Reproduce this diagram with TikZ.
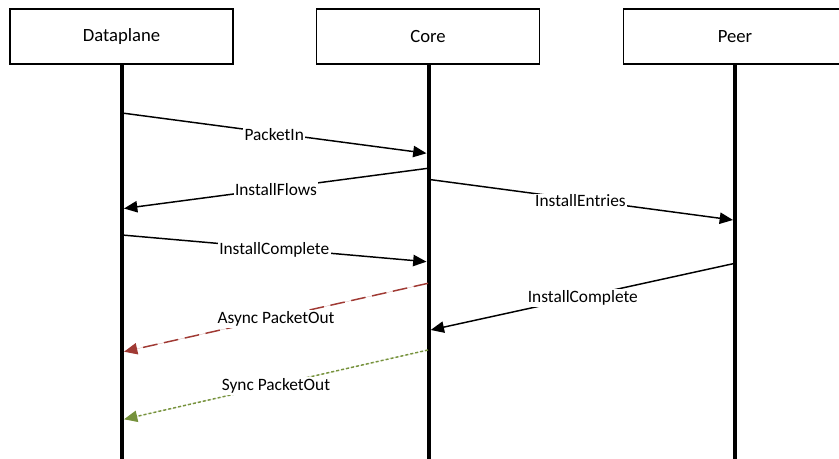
\documentclass[tikz,border=0pt]{standalone}
\usepackage{fontspec}
\setmainfont{Carlito}
\usetikzlibrary{arrows.meta}
\definecolor{asyncred}{RGB}{160,58,52}
\definecolor{syncgreen}{RGB}{118,146,60}
\begin{document}
\begin{tikzpicture}[x=0.75pt,y=-0.75pt,
  actor/.style={draw=black, line width=0.8pt, fill=white,
    minimum width=167.25pt, minimum height=41.25pt, inner sep=0pt,
    font=\fontsize{14}{16}\selectfont},
  lifeline/.style={line width=3pt},
  msg/.style={line width=1.1pt, -{Triangle[length=10pt,width=8.5pt]}},
  lbl/.style={fill=white, inner sep=1pt, yshift=-1pt,
    font=\fontsize{13}{15}\selectfont},
]
\useasboundingbox (0,0) rectangle (839,459);
\clip (0,0) rectangle (839,459);

% lifeline ends at the bottom edge
\coordinate (dpBot) at (122,462);
\coordinate (coreBot) at (428.7,462);
\coordinate (peerBot) at (735,462);
\draw[lifeline] (122,60) -- (dpBot);
\draw[lifeline] (428.7,60) -- (coreBot);
\draw[lifeline] (735,60) -- (peerBot);

% participants
\node[actor] (dp) at (121.5,36.5) {Dataplane};
\node[actor] (core) at (428,36.5) {Core};
\node[actor] (peer) at (735,36.5) {Peer};

% message end points on the lifelines
\coordinate (m1s) at (122,113);   \coordinate (m1e) at (426.5,153.3);
\coordinate (m2s) at (428,168.3); \coordinate (m2e) at (124,208.5);
\coordinate (m3s) at (428,179.3); \coordinate (m3e) at (733,220);
\coordinate (m4s) at (122,235);   \coordinate (m4e) at (426.5,261.7);
\coordinate (m5s) at (735,263.3); \coordinate (m5e) at (430.7,330);
\coordinate (m6s) at (428,283.3); \coordinate (m6e) at (124,351.7);
\coordinate (m7s) at (428,350);   \coordinate (m7e) at (124,419.3);

% messages
\draw[msg] (m1s) -- node[lbl] {PacketIn} (m1e);
\draw[msg] (m2s) -- node[lbl] {InstallFlows} (m2e);
\draw[msg] (m3s) -- node[lbl] {InstallEntries} (m3e);
\draw[msg] (m4s) -- node[lbl] {InstallComplete} (m4e);
\draw[msg] (m5s) -- node[lbl] {InstallComplete} (m5e);
\draw[msg, draw=asyncred, fill=asyncred, dash pattern=on 11pt off 5pt]
  (m6s) -- node[lbl] {Async PacketOut} (m6e);
\draw[msg, draw=syncgreen, fill=syncgreen, dash pattern=on 2.2pt off 1.6pt]
  (m7s) -- node[lbl] {Sync PacketOut} (m7e);
\end{tikzpicture}
\end{document}
